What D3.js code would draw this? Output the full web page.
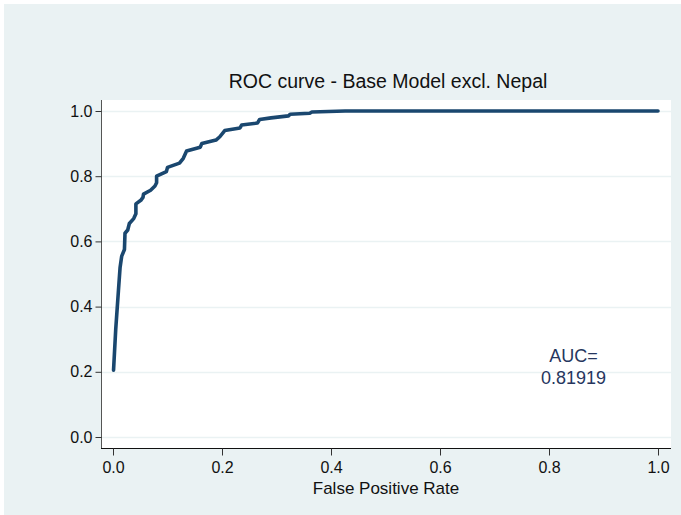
<!DOCTYPE html>
<html>
<head>
<meta charset="utf-8">
<script src="https://cdn.jsdelivr.net/npm/d3@7"></script>
<style>
  body { margin: 0; background: #fff; }
  text { font-family: "Liberation Sans", Arial, sans-serif; }
</style>
</head>
<body>
<div id="chart"></div>
<script>
// ROC points
let fpr = [0.001, 0.005, 0.010, 0.013, 0.016, 0.021, 0.022, 0.027, 0.030, 0.038,
  0.042, 0.042, 0.051, 0.055, 0.056, 0.069, 0.077, 0.080, 0.080, 0.098,
  0.100, 0.122, 0.129, 0.135, 0.160, 0.163, 0.189, 0.196, 0.205, 0.233,
  0.236, 0.265, 0.269, 0.290, 0.322, 0.325, 0.361, 0.365, 0.426, 1.0];
let tpr = [0.205, 0.330, 0.450, 0.520, 0.555, 0.575, 0.625, 0.635, 0.655, 0.670,
  0.685, 0.715, 0.726, 0.735, 0.745, 0.757, 0.770, 0.780, 0.800, 0.814,
  0.827, 0.840, 0.855, 0.877, 0.889, 0.900, 0.911, 0.921, 0.940, 0.948,
  0.957, 0.963, 0.974, 0.979, 0.985, 0.990, 0.993, 0.997, 1.0, 1.0];
let xTicks = [0, 0.2, 0.4, 0.6, 0.8, 1.0];
let yTicks = [0, 0.2, 0.4, 0.6, 0.8, 1.0];
let title = 'ROC curve - Base Model excl. Nepal';
let xTitle = 'False Positive Rate';
let aucLines = ['AUC=', '0.81919'];

let WIDTH = 681, HEIGHT = 515;
let plot = {left: 101, top: 100, right: 671, bottom: 448};

let x = d3.scaleLinear().domain([0, 1]).range([113, 658]);
let y = d3.scaleLinear().domain([0, 1]).range([437, 111]);

let svg = d3.select('#chart').append('svg').attr('width', WIDTH).attr('height', HEIGHT);

// graph region + plot region
svg.append('rect').attr('x', 4).attr('y', 4).attr('width', WIDTH - 4).attr('height', HEIGHT - 4)
  .attr('fill', '#eaf2f3');
svg.append('rect').attr('x', plot.left).attr('y', plot.top)
  .attr('width', plot.right - plot.left).attr('height', plot.bottom - plot.top)
  .attr('fill', '#fff');

// grid
svg.append('g').selectAll('line').data(yTicks).join('line')
  .attr('x1', plot.left).attr('x2', plot.right)
  .attr('y1', d => Math.round(y(d)) + 0.5).attr('y2', d => Math.round(y(d)) + 0.5)
  .attr('stroke', '#eaf2f3').attr('stroke-width', 1.5);

// y axis
let yAxis = d3.axisLeft(y).tickValues(yTicks).tickFormat(d3.format('.1f')).tickSize(6).tickPadding(3);
let yg = svg.append('g').attr('transform', `translate(${plot.left + 0.5},0)`).call(yAxis);
yg.select('.domain').attr('d', `M0,${plot.top}V${plot.bottom}`).attr('stroke', '#555');
yg.selectAll('.tick line').attr('stroke', '#333');
yg.selectAll('.tick text').attr('font-size', 16).attr('fill', '#111')
  .attr('font-family', '"Liberation Sans", Arial, sans-serif');

// x axis
let xAxis = d3.axisBottom(x).tickValues(xTicks).tickFormat(d3.format('.1f')).tickSize(7).tickPadding(6);
let xg = svg.append('g').attr('transform', `translate(0,${plot.bottom + 0.5})`).call(xAxis);
xg.select('.domain').attr('d', `M${plot.left},0H${plot.right}`).attr('stroke', '#111');
xg.selectAll('.tick line').attr('stroke', '#333');
xg.selectAll('.tick text').attr('font-size', 16).attr('fill', '#111')
  .attr('font-family', '"Liberation Sans", Arial, sans-serif');

// ROC curve
let line = d3.line().x((d, i) => x(fpr[i])).y((d, i) => y(tpr[i]));
svg.append('path').attr('d', line(fpr))
  .attr('fill', 'none').attr('stroke', '#1a476f').attr('stroke-width', 3.6)
  .attr('stroke-linejoin', 'round').attr('stroke-linecap', 'round');

// titles
svg.append('text').attr('x', 388).attr('y', 88).attr('text-anchor', 'middle')
  .attr('font-size', 19.5).attr('fill', '#111').text(title);
svg.append('text').attr('x', 386).attr('y', 494).attr('text-anchor', 'middle')
  .attr('font-size', 17).attr('fill', '#111').text(xTitle);

// AUC note
svg.append('g').selectAll('text').data(aucLines).join('text')
  .attr('x', x(0.845)).attr('y', (d, i) => 362 + i * 21.5)
  .attr('text-anchor', 'middle').attr('font-size', 18).attr('fill', '#26365e')
  .text(d => d);
</script>
</body>
</html>
